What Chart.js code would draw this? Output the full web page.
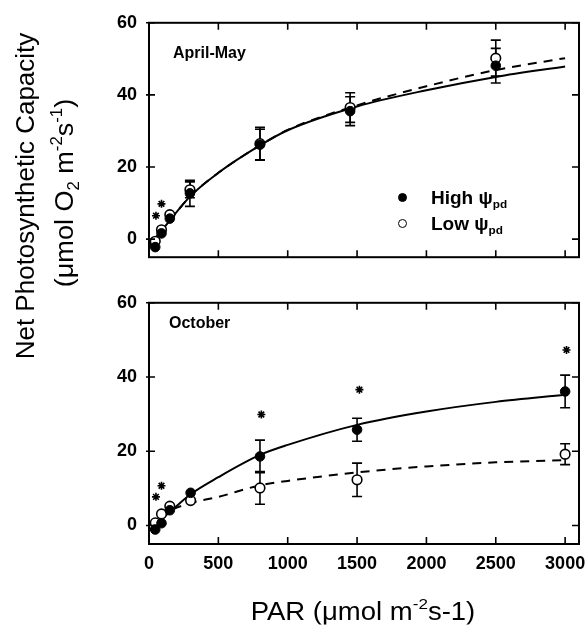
<!DOCTYPE html>
<html><head><meta charset="utf-8">
<script src="https://cdn.jsdelivr.net/npm/chart.js@4/dist/chart.umd.min.js"></script>
<style>
html,body{margin:0;padding:0;background:#fff}
body{width:588px;height:628px;position:relative;overflow:hidden;font-family:"Liberation Sans",Arial,Helvetica,sans-serif;color:#000}
canvas{position:absolute;left:0}
.t{position:absolute;white-space:nowrap;line-height:1}
.sup{font-size:0.62em;position:relative;top:-0.7em}
.sub{font-size:0.62em;position:relative;top:0.35em}
.dot{position:absolute;width:9px;height:9px;border-radius:50%;box-sizing:border-box;border:1.6px solid #000}
</style></head><body>
<canvas id="c1" width="630" height="280" style="top:0"></canvas>
<canvas id="c2" width="630" height="348" style="top:280px"></canvas>

<div class="t" style="left:25px;top:196px;font-size:26px;transform:translate(-50%,-50%) rotate(-90deg)">Net Photosynthetic Capacity</div>
<div class="t" style="left:64px;top:193px;font-size:26px;transform:translate(-50%,-50%) rotate(-90deg) scaleX(1.04)">(μmol O<span class="sub">2</span> m<span class="sup">-2</span>s<span class="sup">-1</span>)</div>
<div class="t" style="left:363px;top:611px;font-size:25px;transform:translate(-50%,-50%) scaleX(1.1)">PAR (μmol m<span class="sup">-2</span>s-1)</div>

<div class="t" style="left:173px;top:45px;font-size:16px;font-weight:bold">April-May</div>
<div class="t" style="left:169px;top:315px;font-size:16px;font-weight:bold">October</div>

<div class="dot" style="left:398px;top:193px;background:#000"></div>
<div class="t" style="left:431px;top:188px;font-size:19px;font-weight:bold">High ψ<span class="sub">pd</span></div>
<div class="dot" style="left:398px;top:219px;background:#fff"></div>
<div class="t" style="left:431px;top:214px;font-size:19px;font-weight:bold">Low ψ<span class="sub">pd</span></div>

<script>
// ---- April-May panel ----
const parAprMay     = [45, 90, 150, 295, 800, 1450, 2500];
const highAprMay    = [-2.2, 1.6, 5.7, 12.7, 26.2, 35.5, 48.1];
const highAprMayErr = [0, 0, 0, 3.6, 4.3, 4.0, 4.8];
const lowAprMay     = [-0.6, 2.6, 6.8, 13.7, 26.5, 36.5, 50.2];
const lowAprMayErr  = [0, 0, 0, 2.2, 4.5, 4.1, 5.0];
const starAprMayX   = [50, 90];
const starAprMayY   = [6.5, 9.8];
const fitAprMayX    = [0, 100, 300, 500, 800, 1000, 1500, 2000, 2500, 3000];
const fitHighAprMay = [-1.8, 2.8, 12.0, 18.4, 26.0, 30.2, 36.8, 41.3, 45.0, 47.9];
const fitLowAprMay  = [-1.8, 2.8, 12.0, 18.4, 26.0, 30.3, 37.1, 42.4, 46.9, 50.2];

// ---- October panel ----
const parOct     = [45, 90, 150, 300, 800, 1500, 3000];
const highOct    = [-1.1, 0.6, 4.1, 8.8, 18.6, 25.8, 36.1];
const highOctErr = [0, 0, 0, 0, 4.4, 3.1, 4.4];
const lowOct     = [0.7, 3.1, 5.2, 6.7, 10.1, 12.3, 19.2];
const lowOctErr  = [0, 0, 0, 0, 4.4, 4.5, 2.8];
const starOctX   = [50, 90, 810, 1517, 3010];
const starOctY   = [7.7, 10.7, 29.9, 36.6, 47.3];
const fitOctX    = [0, 150, 300, 500, 800, 1000, 1500, 2000, 2500, 3000];
const fitHighOct = [-1.4, 3.6, 8.4, 13.0, 19.0, 21.7, 27.1, 30.7, 33.3, 35.2];
const fitLowOct  = [-1.4, 3.8, 6.0, 7.7, 10.8, 12.0, 14.3, 15.9, 17.0, 17.6];

// tick values
const xTickValues = [0, 500, 1000, 1500, 2000, 2500, 3000];
const yTickValues = [0, 20, 40, 60];

Chart.defaults.font.family = "'Liberation Sans', Arial, Helvetica, sans-serif";
Chart.defaults.color = '#000';

const pts = (xs, ys) => xs.map((x, i) => ({x, y: ys[i]}));

const framePlugin = {
  id: 'frame',
  beforeDatasetsDraw(chart) {
    const ctx = chart.ctx, xs = chart.scales.x, ys = chart.scales.y;
    ctx.save();
    ctx.strokeStyle = '#000'; ctx.lineWidth = 1.6;
    chart.data.datasets.forEach(ds => {
      if (!ds.errors) return;
      ds.data.forEach((p, i) => {
        const e = ds.errors[i]; if (!e) return;
        const x = xs.getPixelForValue(p.x);
        const y1 = ys.getPixelForValue(p.y + e), y2 = ys.getPixelForValue(p.y - e);
        ctx.beginPath();
        ctx.moveTo(x, y1); ctx.lineTo(x, y2);
        ctx.moveTo(x - 5, y1); ctx.lineTo(x + 5, y1);
        ctx.moveTo(x - 5, y2); ctx.lineTo(x + 5, y2);
        ctx.stroke();
      });
    });
    ctx.restore();
  },
  afterDraw(chart) {
    const ctx = chart.ctx, a = chart.chartArea, xs = chart.scales.x, ys = chart.scales.y;
    ctx.save();
    ctx.strokeStyle = '#000'; ctx.lineWidth = 2;
    ctx.strokeRect(a.left, a.top, a.right - a.left, a.bottom - a.top);
    ctx.lineWidth = 1.6;
    ctx.beginPath();
    xs.ticks.forEach(t => {
      const x = xs.getPixelForValue(t.value);
      ctx.moveTo(x, a.bottom); ctx.lineTo(x, a.bottom - 7);
      ctx.moveTo(x, a.top); ctx.lineTo(x, a.top + 7);
    });
    ys.ticks.forEach(t => {
      const y = ys.getPixelForValue(t.value);
      ctx.moveTo(a.left - 3, y); ctx.lineTo(a.left + 6, y);
      ctx.moveTo(a.right, y); ctx.lineTo(a.right - 7, y);
    });
    ctx.stroke();
    ctx.restore();
  }
};

function makeChart(id, d, showX, padTop, xHeight) {
  return new Chart(document.getElementById(id), {
    type: 'scatter',
    data: { datasets: [
      { data: pts(d.px, d.high), errors: d.highErr, pointRadius: 4.8, pointBackgroundColor: '#000', pointBorderColor: '#000', pointBorderWidth: 1, order: 1 },
      { data: pts(d.px, d.low), errors: d.lowErr, pointRadius: 4.8, pointBackgroundColor: '#fff', pointBorderColor: '#000', pointBorderWidth: 1.6, order: 2 },
      { data: pts(d.sx, d.sy), pointStyle: 'star', pointRadius: 4, pointBorderColor: '#000', pointBorderWidth: 1.6, order: 3 },
      { data: pts(d.fx, d.fh), showLine: true, borderColor: '#000', borderWidth: 2, pointRadius: 0, cubicInterpolationMode: 'monotone', order: 4 },
      { data: pts(d.fx, d.fl), showLine: true, borderColor: '#000', borderWidth: 2, borderDash: [9, 7], pointRadius: 0, cubicInterpolationMode: 'monotone', order: 5 }
    ]},
    options: {
      responsive: false, animation: false, devicePixelRatio: 1,
      layout: { padding: { top: padTop, right: 51, left: 0, bottom: 0 } },
      plugins: { legend: { display: false }, tooltip: { enabled: false } },
      scales: {
        x: {
          type: 'linear', min: 0, max: 3100,
          grid: { display: false, drawTicks: false }, border: { display: false },
          ticks: { display: showX, padding: 9, font: { size: 18, weight: 'bold' }, maxRotation: 0, autoSkip: false,
                   callback: v => String(v) },
          afterBuildTicks: s => { s.ticks = xTickValues.map(v => ({ value: v })); },
          afterFit: s => { s.height = xHeight; }
        },
        y: {
          type: 'linear', min: -5, max: 60,
          grid: { display: false, drawTicks: false }, border: { display: false },
          ticks: { padding: 12, font: { size: 18, weight: 'bold' }, callback: v => String(v) },
          afterBuildTicks: s => { s.ticks = yTickValues.map(v => ({ value: v })); },
          afterFit: s => { s.width = 149; }
        }
      }
    },
    plugins: [framePlugin]
  });
}

makeChart('c1', { px: parAprMay, high: highAprMay, highErr: highAprMayErr, low: lowAprMay, lowErr: lowAprMayErr,
  sx: starAprMayX, sy: starAprMayY, fx: fitAprMayX, fh: fitHighAprMay, fl: fitLowAprMay }, false, 16, 16);
makeChart('c2', { px: parOct, high: highOct, highErr: highOctErr, low: lowOct, lowErr: lowOctErr,
  sx: starOctX, sy: starOctY, fx: fitOctX, fh: fitHighOct, fl: fitLowOct }, true, 15, 84);
</script>
</body></html>
